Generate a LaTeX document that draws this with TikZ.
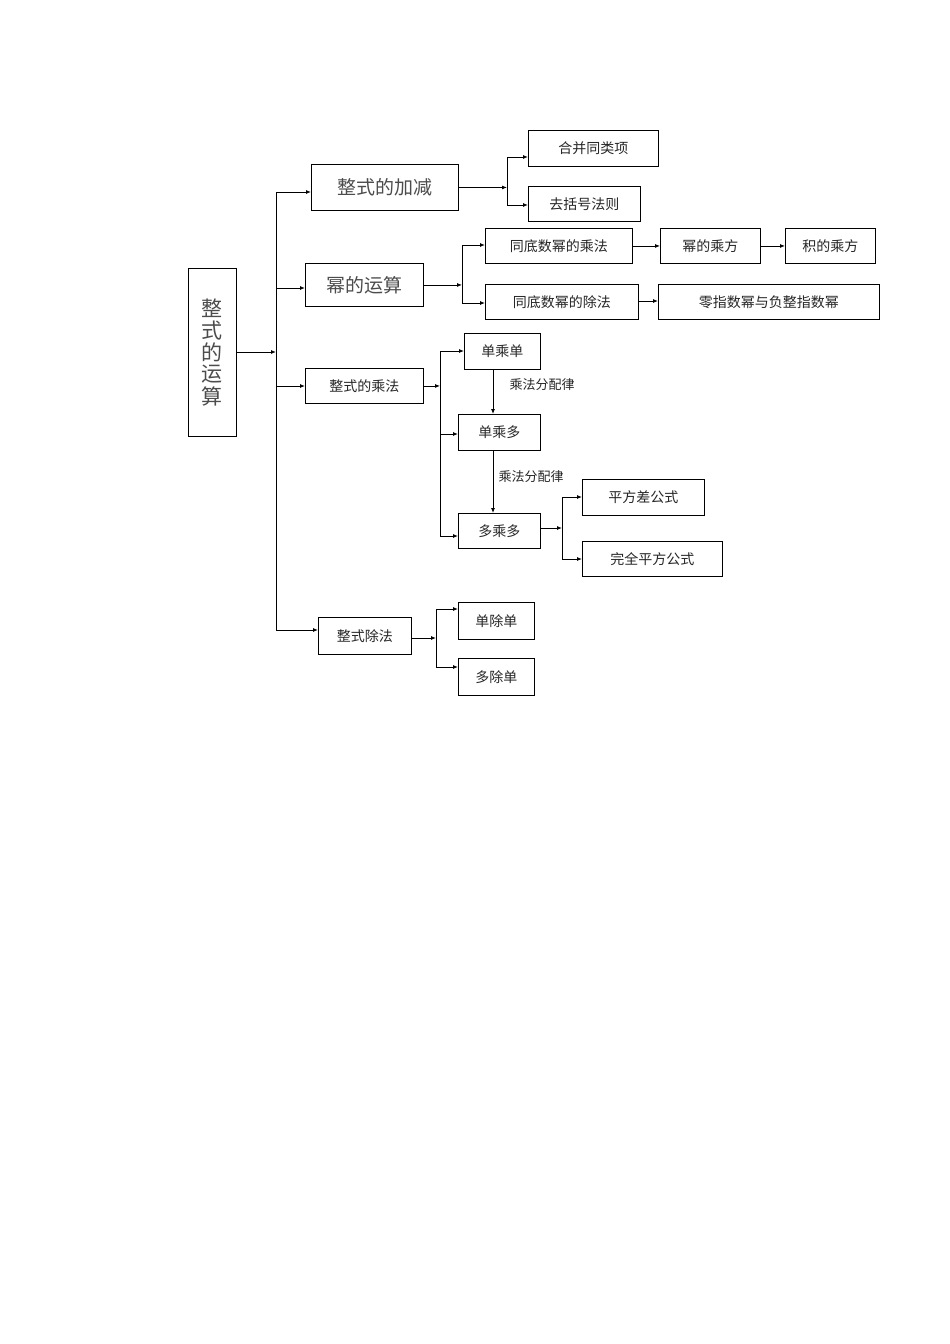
\documentclass[tikz,border=0pt]{standalone}
\usepackage{fontspec}
\setmainfont{Noto Sans CJK SC}
\usetikzlibrary{arrows.meta}
\begin{document}
\begin{tikzpicture}[x=1pt,y=-1pt,
  bx/.style={draw,line width=0.9pt,inner sep=0pt,anchor=north west,font=\fontsize{14}{16}\selectfont,text=black!85},
  big/.style={font=\fontsize{19}{22}\selectfont,text=black!70},
  ar/.style={-{Latex[length=5pt,width=4pt]},line width=0.9pt},
  ln/.style={line width=0.9pt}]
\useasboundingbox[fill=white] (0,0) rectangle (950,1344);
\newcommand\B[6]{\node[bx,minimum width=#4-#2,minimum height=#5-#3,#6] (#1) at (#2,#3) {};}
% root
\node[bx,minimum width=48,minimum height=168,big,font=\fontsize{21}{27}\selectfont] (R) at (188,268) {\shortstack{整\\式\\的\\运\\算}};
\node[bx,minimum width=147,minimum height=46,big] (A) at (311,164) {整式的加减};
\node[bx,minimum width=130,minimum height=36] (A1) at (528,130) {合并同类项};
\node[bx,minimum width=112,minimum height=35] (A2) at (528,186) {去括号法则};
\node[bx,minimum width=118,minimum height=43,big] (B) at (305,263) {幂的运算};
\node[bx,minimum width=147,minimum height=35] (B1) at (485,228) {同底数幂的乘法};
\node[bx,minimum width=100,minimum height=35] (B2) at (660,228) {幂的乘方};
\node[bx,minimum width=90,minimum height=35] (B3) at (785,228) {积的乘方};
\node[bx,minimum width=153,minimum height=35] (B4) at (485,284) {同底数幂的除法};
\node[bx,minimum width=221,minimum height=35] (B5) at (658,284) {零指数幂与负整指数幂};
\node[bx,minimum width=118,minimum height=35] (C) at (305,368) {整式的乘法};
\node[bx,minimum width=76,minimum height=36] (C1) at (464,333) {单乘单};
\node[bx,minimum width=82,minimum height=36] (C2) at (458,414) {单乘多};
\node[bx,minimum width=82,minimum height=35] (C3) at (458,513) {多乘多};
\node[bx,minimum width=122,minimum height=36] (C4) at (582,479) {平方差公式};
\node[bx,minimum width=140,minimum height=35] (C5) at (582,541) {完全平方公式};
\node[bx,minimum width=93,minimum height=37] (D) at (318,617) {整式除法};
\node[bx,minimum width=76,minimum height=37] (D1) at (458,602) {单除单};
\node[bx,minimum width=76,minimum height=37] (D2) at (458,658) {多除单};
% spine
\coordinate (S) at (276,352);
\draw[ar] (R.east|-S) -- (S);
\draw[ln] (276,192) -- (276,630);
\draw[ar] (276,192) -- (A.west|-0,192);
\draw[ar] (276,288) -- (B.west|-0,288);
\draw[ar] (276,386) -- (C.west|-0,386);
\draw[ar] (276,630) -- (D.west|-0,630);
% A
\draw[ar] (A.east) -- (507,0|-A.east);
\draw[ln] (507,157) -- (507,205);
\draw[ar] (507,157) -- (A1.west|-0,157);
\draw[ar] (507,205) -- (A2.west|-0,205);
% B
\draw[ar] (B.east) -- (462,0|-B.east);
\draw[ln] (462,245) -- (462,303);
\draw[ar] (462,245) -- (B1.west|-0,245);
\draw[ar] (462,303) -- (B4.west|-0,303);
\draw[ar] (B1) -- (B2);
\draw[ar] (B2) -- (B3);
\draw[ar] (B4.east|-0,301) -- (B5.west|-0,301);
% C
\draw[ar] (C.east) -- (440,0|-C.east);
\draw[ln] (440,351) -- (440,536);
\draw[ar] (440,351) -- (C1.west|-0,351);
\draw[ar] (440,434) -- (C2.west|-0,434);
\draw[ar] (440,536) -- (C3.west|-0,536);
\draw[ar] (493,369) -- (493,414) coordinate (e1);
\draw[ar] (493,450) -- (493,513);
\node[font=\fontsize{13}{15}\selectfont,anchor=west,text=black!85] (L1) at (506,385) {乘法分配律};
\node[font=\fontsize{13}{15}\selectfont,anchor=west,text=black!85] (L2) at (495,477) {乘法分配律};
\draw[ar] (C3.east|-0,528) -- (562,528);
\draw[ln] (562,497) -- (562,559);
\draw[ar] (562,497) -- (C4.west|-0,497);
\draw[ar] (562,559) -- (C5.west|-0,559);
% D
\draw[ar] (D.east|-0,638) -- (436,638);
\draw[ln] (436,609) -- (436,667);
\draw[ar] (436,609) -- (D1.west|-0,609);
\draw[ar] (436,667) -- (D2.west|-0,667);
\end{tikzpicture}
\end{document}
